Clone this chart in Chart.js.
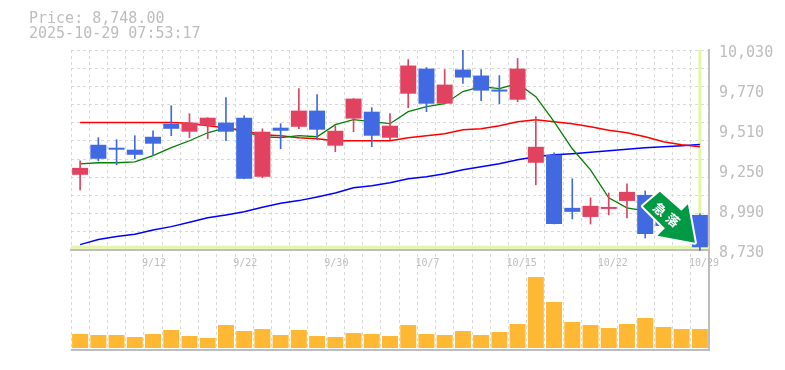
<!DOCTYPE html>
<html><head><meta charset="utf-8">
<style>html,body{margin:0;padding:0;background:#fff}#w{position:relative;width:785px;height:370px}</style>
<script src="https://cdn.jsdelivr.net/npm/chart.js@4/dist/chart.umd.min.js"></script>
</head><body><div id="w"><canvas id="c" width="785" height="370"></canvas></div>
<script>
const categories=['9/8','9/9','9/10','9/11','9/12','9/16','9/17','9/18','9/19','9/22','9/24','9/25','9/26','9/29','9/30','10/1','10/2','10/3','10/6','10/7','10/8','10/9','10/10','10/14','10/15','10/16','10/17','10/20','10/21','10/22','10/23','10/24','10/27','10/28','10/29'];
const shownDates=['9/12','9/22','9/30','10/7','10/15','10/22','10/29'];
const open=[9219,9414,9395,9382,9466,9551,9499,9538,9558,9590,9206,9525,9531,9636,9408,9584,9629,9460,9746,9909,9681,9903,9864,9773,9707,9297,9349,9004,8945,8997,9049,9088,9004,8939,8958];
const high=[9310,9460,9447,9473,9505,9668,9616,9590,9720,9603,9518,9551,9779,9740,9538,9714,9655,9616,9968,9916,9903,10033,9903,9864,9975,9597,9362,9193,9069,9101,9160,9114,9036,8965,8965];
const low=[9121,9310,9284,9323,9343,9473,9460,9453,9440,9193,9199,9388,9518,9447,9369,9499,9401,9447,9655,9629,9681,9812,9701,9681,9694,9154,8899,8932,8899,8958,8939,8808,8860,8821,8727];
const close=[9264,9323,9382,9349,9421,9518,9558,9590,9499,9193,9499,9505,9636,9512,9505,9714,9473,9538,9929,9681,9805,9851,9766,9760,9909,9401,8899,8978,9017,9010,9108,8834,8886,8847,8748];
const maShort=[9290,9297,9297,9303,9343,9395,9440,9492,9525,9499,9466,9460,9473,9466,9545,9577,9564,9551,9629,9662,9681,9760,9792,9779,9812,9727,9564,9388,9251,9069,9004,8984,8939,8893,8847];
const maMid=[9558,9558,9558,9558,9558,9558,9554,9538,9525,9505,9479,9473,9460,9453,9440,9440,9440,9440,9460,9473,9486,9512,9518,9538,9564,9577,9564,9551,9531,9509,9492,9466,9434,9414,9401];
const maLong=[8765,8798,8817,8832,8860,8882,8910,8940,8958,8978,9008,9034,9051,9075,9101,9134,9147,9167,9193,9206,9225,9251,9271,9290,9316,9336,9349,9356,9365,9375,9385,9395,9401,9408,9416];
const volume=[140,130,130,110,140,180,120,100,230,170,190,130,180,120,110,150,140,120,230,140,130,170,130,160,240,710,460,260,230,200,240,300,210,190,190];
const priceTicks=[8730,8990,9250,9510,9770,10030];
const titleLines=['Price: 8,748.00','2025-10-29 07:53:17'];
const badgeChars=['急','落'];

const UP='#E04260',DOWN='#4169E1',VOL='#FFB833',TXT='#BDBDBD',GRID='#D9D9D9',AXIS='#BDBDBD',CROSS='#E3F5A6';
const candleColors=open.map((o,i)=>close[i]>=o?UP:DOWN);
const gridTicks=[];for(let k=0;k<=11;k++)gridTicks.push(8730+k*1300/11);
const PMIN=8080,PMAX=10030;

const decor={id:'decor',
 beforeDatasetsDraw(ch){
  const {ctx,chartArea:a,scales:{x,y}}=ch;
  const px=x.getPixelForValue(categories.length-1),py=y.getPixelForValue(close[close.length-1]);
  ctx.save();ctx.fillStyle=CROSS;
  ctx.fillRect(px-1.5,a.top,3,py-a.top);
  ctx.fillRect(a.left,py-1.5,a.right-a.left,3);
  ctx.restore();
 },
 afterDraw(ch){
  const {ctx,chartArea:a,scales:{x,y}}=ch;
  ctx.save();
  ctx.strokeStyle=AXIS;ctx.lineWidth=2;
  ctx.beginPath();ctx.moveTo(a.left,a.bottom);ctx.lineTo(a.right+1,a.bottom);ctx.stroke();
  ctx.fillStyle=TXT;ctx.font='15px "DejaVu Sans Mono"';ctx.textBaseline='alphabetic';ctx.textAlign='left';
  titleLines.forEach((t,i)=>ctx.fillText(t,29,23+i*15));
  // badge anchored on the last candle
  const ox=x.getPixelForValue(categories.length-1),oy=y.getPixelForValue(close[close.length-1]);
  const pts=[[-40,-55.5],[-57,-41],[-35,-19],[-42.5,-11.5],[-5,-4.5],[-12,-43],[-18.5,-36.5]];
  ctx.beginPath();pts.forEach((p,i)=>{i?ctx.lineTo(ox+p[0],oy+p[1]):ctx.moveTo(ox+p[0],oy+p[1])});ctx.closePath();
  ctx.lineJoin='round';ctx.strokeStyle='#fff';ctx.lineWidth=4;ctx.stroke();
  ctx.fillStyle='#009944';ctx.fill();
  ctx.translate(ox-33.5,oy-32.5);ctx.rotate(Math.PI*0.22);
  ctx.fillStyle='#fff';ctx.font='bold 13px "Noto Sans CJK JP"';ctx.textAlign='center';ctx.textBaseline='middle';
  badgeChars.forEach((t,i)=>ctx.fillText(t,(i-0.5)*17,0));
  ctx.restore();
 }};

new Chart(document.getElementById('c'),{
 data:{labels:categories,datasets:[
  {type:'bar',label:'Volume',yAxisID:'yVol',data:volume,backgroundColor:VOL,grouped:false,categoryPercentage:1,barPercentage:0.877,order:1},
  {type:'bar',label:'Body',yAxisID:'y',data:open.map((o,i)=>[o,close[i]]),backgroundColor:candleColors,grouped:false,categoryPercentage:1,barPercentage:0.877,order:2},
  {type:'bar',label:'Wick',yAxisID:'y',data:low.map((l,i)=>[l,high[i]]),backgroundColor:candleColors,grouped:false,barThickness:1,order:3},
  {type:'line',label:'MA short',yAxisID:'y',data:maShort,borderColor:'#008000',borderWidth:1.3,pointRadius:0,tension:0,order:4},
  {type:'line',label:'MA mid',yAxisID:'y',data:maMid,borderColor:'#FF0000',borderWidth:1.5,pointRadius:0,tension:0,order:5},
  {type:'line',label:'MA long',yAxisID:'y',data:maLong,borderColor:'#0000FF',borderWidth:1.5,pointRadius:0,tension:0,order:6}
 ]},
 options:{
  responsive:false,animation:false,devicePixelRatio:1,
  layout:{padding:{left:71,top:50,right:0,bottom:20}},
  plugins:{legend:{display:false},title:{display:false},tooltip:{enabled:false}},
  scales:{
   x:{type:'category',position:{y:8730},
      grid:{color:GRID,lineWidth:1,drawTicks:false,offset:true},
      border:{color:AXIS,width:2,dash:[3,3]},
      ticks:{autoSkip:false,maxRotation:0,minRotation:0,align:'start',labelOffset:-11,padding:7,color:TXT,font:{family:'"DejaVu Sans Mono"',size:10},
        callback(v){const l=this.getLabelForValue(v);return shownDates.includes(l)?l:'';}}},
   y:{type:'linear',position:'right',min:PMIN,max:PMAX,
      afterBuildTicks(s){s.ticks=gridTicks.map(v=>({value:v}));},
      afterFit(s){s.width=0;},
      grid:{color:GRID,lineWidth:1,drawTicks:false},
      border:{display:false,dash:[3,3]},
      ticks:{display:false}},
   yLabels:{axis:'y',type:'linear',position:'right',min:PMIN,max:PMAX,
      afterBuildTicks(s){s.ticks=priceTicks.map(v=>({value:v}));},
      afterFit(s){s.width=76;},
      grid:{display:false,drawTicks:false},
      border:{color:AXIS,width:2},
      ticks:{padding:10,labelOffset:3,color:TXT,crossAlign:'near',font:{family:'"DejaVu Sans Mono"',size:15},
        callback(v){return v.toLocaleString('en-US');}}},
   yVol:{axis:'y',type:'linear',display:false,min:-20,max:2980}
  }
 },
 plugins:[decor]
});
</script></body></html>
